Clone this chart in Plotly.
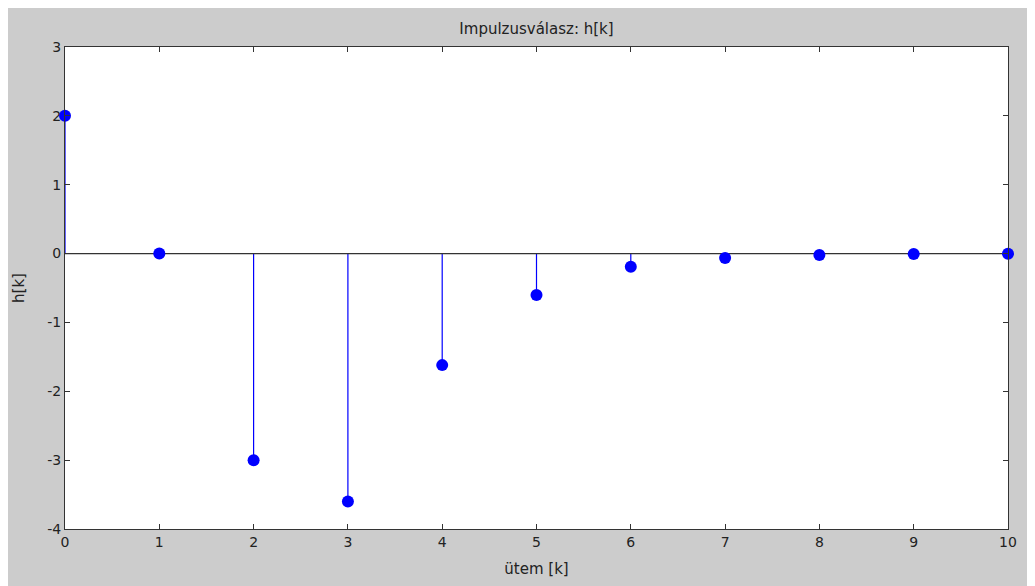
import plotly.graph_objects as go

k = [0, 1, 2, 3, 4, 5, 6, 7, 8, 9, 10]
h = [2.0, 0.0, -3.0, -3.6, -1.62, -0.6, -0.19, -0.065, -0.02, -0.005, -0.001]

title_text = "Impulzusválasz: h[k]"
x_label = "ütem [k]"
y_label = "h[k]"
x_ticks = list(range(0, 11))
y_ticks = [-4, -3, -2, -1, 0, 1, 2, 3]
y_ticktext = ["-4", "-3", "-2", "-1", "0", "1", "2", "3"]

stem_x, stem_y = [], []
for xi, yi in zip(k, h):
    stem_x += [xi, xi, None]
    stem_y += [0, yi, None]

blue = "#0000FF"
font = "DejaVu Sans, Verdana, sans-serif"
fsize = 14
lsize = 15
tcol = "#222222"

fig = go.Figure()
fig.add_trace(go.Scatter(x=stem_x, y=stem_y, mode="lines",
                         line=dict(color=blue, width=1.2),
                         hoverinfo="skip", showlegend=False, cliponaxis=False))
fig.add_trace(go.Scatter(x=[k[0], k[-1]], y=[0, 0], mode="lines",
                         line=dict(color="#333333", width=1.2),
                         hoverinfo="skip", showlegend=False))
fig.add_trace(go.Scatter(x=k, y=h, mode="markers",
                         marker=dict(color=blue, size=12, line=dict(width=0)),
                         showlegend=False, cliponaxis=False))

axis_common = dict(showgrid=False, zeroline=False, showline=True,
                   linecolor="#333333", linewidth=1.2, mirror="ticks",
                   ticks="inside", ticklen=5, tickcolor="#333333", tickwidth=1,
                   tickfont=dict(family=font, size=fsize, color=tcol))

# page body has an 8px margin: figure starts at (8, 8) in the window
fig.update_layout(
    width=1027, height=578,
    paper_bgcolor="#CCCCCC", plot_bgcolor="#FFFFFF",
    margin=dict(l=57, r=27, t=39, b=57),
    title=dict(text=title_text, x=0.5, xanchor="center", xref="paper",
               y=1, yref="paper", yanchor="bottom", pad=dict(b=13),
               font=dict(family=font, size=lsize, color=tcol)),
    xaxis=dict(range=[0, 10], tickvals=x_ticks,
               title=dict(text=x_label, standoff=14,
                          font=dict(family=font, size=lsize, color=tcol)),
               **axis_common),
    yaxis=dict(range=[-4, 3], tickvals=y_ticks, ticktext=y_ticktext,
               title=dict(text=y_label, standoff=18,
                          font=dict(family=font, size=lsize, color=tcol)),
               **axis_common),
)

fig.write_html("out.html")
